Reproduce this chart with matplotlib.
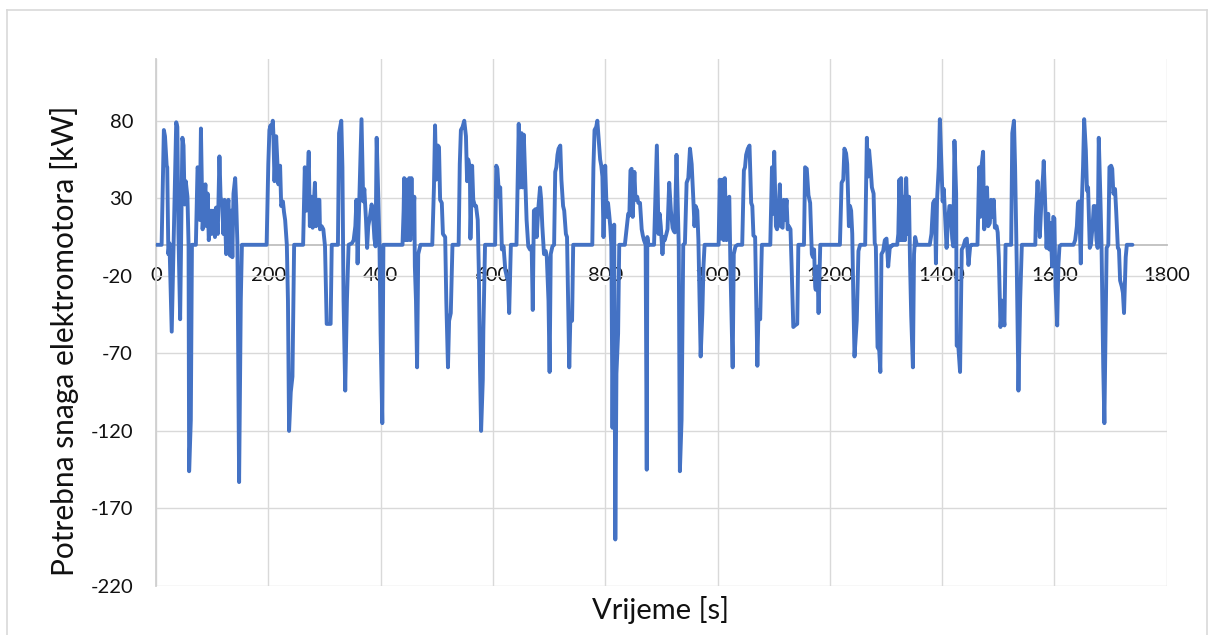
import matplotlib
matplotlib.use("Agg")
import matplotlib.pyplot as plt
from matplotlib.lines import Line2D

# vrijeme [s] i potrebna snaga [kW], ocitano sa slike
time_s = [
    0, 10, 14, 16, 19, 20, 22, 24, 28, 36, 38,
    40, 43, 47, 49, 51, 53, 56, 58, 59, 62, 64, 71,
    74, 76, 78, 80, 82, 83, 86, 88, 90, 92, 94, 96,
    98, 99, 102, 105, 107, 110, 113, 115, 118, 120, 122, 125,
    127, 129, 132, 134, 136, 138, 141, 143, 145, 148, 151, 153,
    197, 200, 202, 204, 206, 208, 209, 211, 214, 216, 218, 221,
    223, 226, 228, 230, 233, 235, 237, 240, 243, 246, 262, 265,
    268, 272, 274, 277, 279, 283, 285, 288, 291, 292, 295, 298,
    301, 304, 308, 311, 313, 324, 326, 330, 332, 334, 337, 340,
    343, 349, 352, 355, 357, 359, 362, 366, 369, 371, 374, 376,
    378, 381, 384, 386, 389, 391, 393, 396, 398, 400, 403, 405,
    439, 441, 442, 444, 446, 448, 451, 453, 455, 457, 460, 461,
    463, 465, 467, 471, 492, 495, 497, 499, 502, 504, 506, 509,
    511, 515, 517, 520, 522, 525, 528, 539, 541, 543, 546, 549,
    552, 554, 556, 559, 560, 563, 565, 568, 570, 573, 575, 577,
    579, 582, 583, 586, 604, 606, 608, 611, 613, 616, 619, 622,
    625, 627, 629, 632, 642, 646, 648, 651, 653, 655, 658, 660,
    663, 666, 669, 671, 673, 676, 678, 681, 684, 686, 688, 691,
    694, 696, 699, 701, 703, 706, 709, 711, 713, 715, 717, 720,
    722, 725, 727, 730, 732, 734, 736, 738, 741, 743, 777, 779,
    781, 784, 786, 788, 791, 793, 795, 797, 800, 803, 805, 807,
    809, 811, 813, 816, 818, 820, 823, 825, 835, 838, 841, 843,
    845, 847, 849, 852, 854, 857, 859, 862, 865, 867, 869, 872,
    874, 875, 877, 887, 892, 895, 897, 899, 902, 904, 906, 909,
    911, 914, 917, 920, 922, 924, 927, 929, 931, 933, 936, 939,
    942, 945, 948, 951, 954, 957, 959, 961, 964, 966, 968, 970,
    973, 975, 977, 1002, 1004, 1007, 1009, 1011, 1013, 1016, 1018, 1021,
    1023, 1025, 1027, 1029, 1032, 1036, 1044, 1047, 1049, 1051, 1054, 1057,
    1060, 1062, 1064, 1067, 1069, 1071, 1073, 1076, 1079, 1094, 1097, 1099,
    1101, 1104, 1106, 1108, 1111, 1113, 1116, 1118, 1120, 1123, 1125, 1127,
    1130, 1132, 1135, 1138, 1142, 1144, 1154, 1156, 1159, 1162, 1165, 1168,
    1170, 1172, 1174, 1175, 1178, 1180, 1183, 1218, 1221, 1224, 1226, 1229,
    1231, 1234, 1236, 1238, 1240, 1242, 1244, 1248, 1251, 1254, 1263, 1266,
    1268, 1270, 1273, 1275, 1278, 1280, 1282, 1285, 1288, 1290, 1292, 1295,
    1298, 1301, 1304, 1307, 1310, 1312, 1320, 1322, 1324, 1326, 1327, 1330,
    1332, 1334, 1336, 1339, 1341, 1343, 1345, 1348, 1350, 1352, 1355, 1378,
    1381, 1384, 1387, 1389, 1391, 1394, 1396, 1399, 1401, 1403, 1406, 1408,
    1410, 1413, 1415, 1418, 1420, 1422, 1425, 1426, 1429, 1432, 1435, 1438,
    1441, 1444, 1447, 1450, 1452, 1463, 1466, 1468, 1470, 1473, 1475, 1478,
    1480, 1482, 1485, 1487, 1490, 1492, 1494, 1497, 1499, 1501, 1504, 1507,
    1511, 1513, 1523, 1525, 1528, 1530, 1533, 1536, 1539, 1542, 1566, 1567,
    1570, 1572, 1574, 1577, 1580, 1581, 1584, 1586, 1589, 1591, 1593, 1596,
    1598, 1600, 1602, 1605, 1607, 1609, 1612, 1634, 1637, 1640, 1642, 1644,
    1647, 1649, 1651, 1653, 1656, 1658, 1660, 1663, 1665, 1668, 1670, 1672,
    1675, 1677, 1679, 1682, 1684, 1687, 1689, 1691, 1693, 1696, 1698, 1701,
    1703, 1705, 1708, 1710, 1713, 1715, 1717, 1720, 1722, 1724, 1727, 1729,
    1739,
]
power_kw = [
    0, 0, 74, 70, 51, 50, -6, 1, -56, 79, 76,
    7, -48, 69, 64, 26, 41, 31, 0, -146, -113, 0, 0,
    50, 48, 16, 75, 29, 10, 29, 39, 12, 33, 3, 14,
    22, 7, 22, 5, 24, 7, 57, 31, 25, 7, 29, -6,
    22, 29, -7, 22, -8, 33, 43, 25, 0, -153, -36, 0,
    0, 52, 74, 77, 72, 80, 72, 41, 70, 55, 39, 51,
    25, 28, 21, 16, 0, -36, -120, -95, -85, 0, 0, 50,
    22, 60, 12, 31, 11, 40, 12, 29, 29, 10, 12, 10,
    -1, -51, -51, -51, 0, 0, 72, 80, 50, -36, -94, -36,
    0, 1, 3, 12, 29, -12, 29, 81, 28, 36, 16, -2,
    12, 18, 26, 22, 4, -1, 69, 29, -1, -57, -115, 0,
    0, 22, 43, 3, 42, 3, 43, 3, 43, 7, 31, -14,
    -36, -79, -6, 0, 0, 37, 77, 42, 64, 63, 29, 27,
    7, 5, -36, -79, -49, -44, 0, 0, 52, 74, 76, 80,
    70, 41, 55, 50, 4, 51, 29, 25, 25, 16, -18, -79,
    -120, -87, -55, 0, 0, 51, 49, 31, 37, -3, -1, -16,
    -21, -23, -44, 0, 0, 78, 37, 72, 37, 71, 37, 16,
    -1, -3, -1, -42, 22, 23, 5, 24, 37, 29, 12, -6,
    -4, -8, -36, -82, -6, -1, 0, 47, 50, 58, 62, 64,
    42, 25, 22, 7, 5, -36, -79, -46, -49, 0, 0, 50,
    74, 76, 80, 70, 55, 51, 44, 5, 51, 18, 27, 20,
    12, -1, -118, 13, -190, -83, -57, 0, 0, 10, 20, 19,
    48, 49, 18, 47, 29, 31, 27, 27, 10, 6, 3, 0,
    -145, 5, 0, 0, 64, 7, 20, 12, -6, 5, 3, 7,
    10, 40, 22, 11, 9, 8, 58, 29, -1, -146, -113, 0,
    1, 40, 43, 62, 52, 29, 12, 25, 22, 3, -36, -72,
    -44, -14, 0, 0, 42, 4, 42, 3, 43, 3, 29, 31,
    -14, -46, -79, -6, -1, 0, 0, 48, 50, 58, 62, 64,
    27, 25, 6, 5, -36, -78, -42, -48, 0, 0, 50, 20,
    60, 12, 10, 14, 39, 12, 11, 29, 16, 29, 10, 12,
    10, -14, -53, -52, -51, 0, 0, 50, 49, 32, 27, -6,
    -8, -3, -27, -29, -14, -44, 0, 0, 40, 42, 62, 59,
    52, 12, 25, 22, 7, -36, -72, -49, -4, 0, 0, 69,
    44, 61, 48, 37, 33, 1, -1, -66, -68, -82, -6, -4,
    3, 4, -14, -1, -1, 0, 0, 7, 42, 3, 43, 3,
    31, 3, 43, 7, 31, -14, -46, -79, -6, 5, 0, 0,
    7, 27, 29, -12, 29, 50, 81, 50, 28, 36, 14, -2,
    12, 25, 25, 4, -1, 67, 33, -65, -66, -82, -3, -1,
    3, 4, -13, -1, 0, 0, 50, 18, 50, 60, 10, 29,
    37, 12, 14, 29, 18, 29, 11, 12, 8, -8, -53, -36,
    -52, 0, 0, 72, 80, 50, -14, -94, -36, 0, 0, 18,
    41, 22, 5, 29, 46, 54, 22, -2, 20, -3, 14, -14,
    18, 17, -27, -52, -14, -1, 0, 0, 3, 12, 27, 28,
    -12, 29, 50, 81, 61, 35, 37, -2, 0, 12, 25, 25,
    3, -2, 69, 29, -2, -79, -115, -57, -2, 0, 50, 51,
    49, 33, 36, 22, -2, -3, -23, -27, -31, -44, -8, 0,
    0,
]

x_ticks = list(range(0, 1801, 200))
y_ticks = list(range(-220, 81, 50))

plt.rcParams['font.family'] = ['Lato', 'DejaVu Sans']
plt.rcParams['axes.unicode_minus'] = False

W, H = 1213, 635
fig = plt.figure(figsize=(W / 100, H / 100), dpi=100)
ax = fig.add_axes([156 / W, 1 - 586 / H, (1166.7 - 156) / W, (586 - 58.7) / H])

ax.plot(time_s, power_kw, color='#4472C4', lw=2.8, zorder=3,
        solid_joinstyle='round', solid_capstyle='round')

ax.set_xlim(0, 1800)
ax.set_ylim(-220, 120)
ax.set_xticks(x_ticks)
ax.set_yticks(y_ticks)
ax.grid(True, color='#D9D9D9', lw=1.0)
ax.set_axisbelow(True)

for s in ['top', 'right']:
    ax.spines[s].set_visible(False)
ax.spines['bottom'].set_position(('data', 0))
ax.spines['bottom'].set_color('#BFBFBF')
ax.spines['bottom'].set_linewidth(1.3)
ax.spines['left'].set_color('#D0D0D0')
ax.spines['left'].set_linewidth(1.3)

ax.tick_params(axis='both', length=0, labelsize=14.5, labelcolor='#111111')
ax.tick_params(axis='y', pad=16.5)
ax.tick_params(axis='x', pad=16)
for lab in ax.get_xticklabels():
    lab.set_bbox(dict(facecolor='white', edgecolor='none', pad=0.5))

fig.text(65 / W, 1 - 341 / H, 'Potrebna snaga elektromotora [kW]', rotation=90,
         ha='center', va='center', fontsize=21.5, color='#111111')
fig.text(661 / W, 1 - 610 / H, 'Vrijeme [s]', ha='center', va='center',
         fontsize=21, color='#111111')

# okvir grafikona
bx0, bx1, by = 7 / W, 1207 / W, 1 - 10 / H
for xs, ys in [([bx0, bx0], [0, by]), ([bx0, bx1], [by, by]), ([bx1, bx1], [by, 0])]:
    fig.add_artist(Line2D(xs, ys, color='#D9D9D9', lw=1.2))

fig.savefig('out.png', dpi=100)
